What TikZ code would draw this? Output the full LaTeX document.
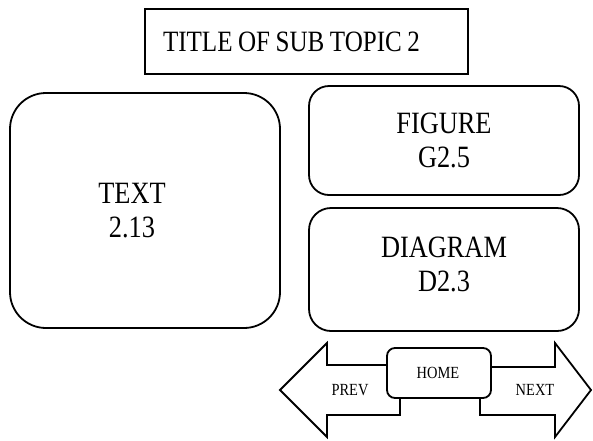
\documentclass[tikz,border=0pt]{standalone}
\usepackage{fontspec}
\setmainfont{Liberation Serif}[FakeStretch=0.85]
\begin{document}
\begin{tikzpicture}[x=1pt,y=-1pt,
  box/.style={draw=black, line width=1.8pt, fill=white},
  big/.style={font=\fontsize{31}{34}\selectfont, align=center},
  small/.style={font=\fontsize{17}{20}\selectfont}]
\useasboundingbox (0,0) rectangle (593,440);
% title
\node[box, minimum width=323pt, minimum height=65pt, text width=287pt,
      inner xsep=18pt, align=left, font=\fontsize{29.5}{34}\selectfont]
      (title) at (306.5,41.5) {\spaceskip=5.5pt TITLE OF SUB TOPIC 2};
% text box
\node[box, rounded corners=36pt, minimum width=270pt, minimum height=235pt]
      (textbox) at (145,210.5) {};
\node[big] (textlbl) at ([xshift=-13pt]textbox.center) {TEXT\\2.13};
% figure
\node[box, rounded corners=20pt, minimum width=270pt, minimum height=109pt, big]
      (figure) at (444,140.5) {FIGURE\\G2.5};
% diagram
\node[box, rounded corners=22pt, minimum width=270pt, minimum height=123pt]
      (diagram) at (444,269.5) {};
\node[big] (diaglbl) at ([yshift=5pt]diagram.center) {DIAGRAM\\D2.3};
% arrows
\draw[box, line join=miter] (280,390) -- (327,343) -- (327,365) -- (400,365)
      -- (400,415) -- (327,415) -- (327,437) -- cycle;
\draw[box, line join=miter] (591,390) -- (555,343) -- (555,367) -- (480,367)
      -- (480,415) -- (555,415) -- (555,437) -- cycle;
% home
\node[box, rounded corners=8pt, minimum width=104pt, minimum height=50pt]
      (home) at (439,373) {};
\node[small] (homelbl) at (438,373) {HOME};
\node[small] (prev) at (350,390) {PREV};
\node[small] (next) at (535,390) {NEXT};
\end{tikzpicture}
\end{document}
